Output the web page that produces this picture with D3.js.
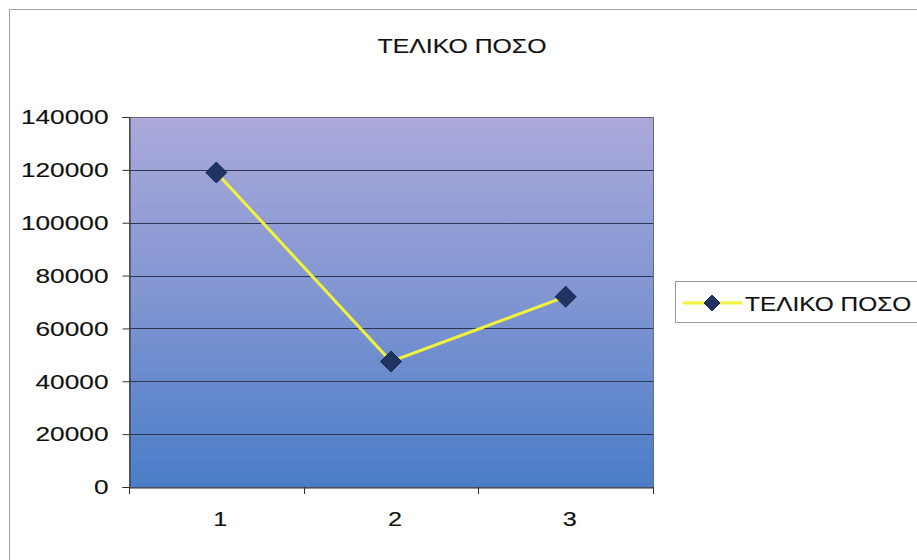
<!DOCTYPE html>
<html>
<head>
<meta charset="utf-8">
<script src="https://cdn.jsdelivr.net/npm/d3@7"></script>
<style>
  html, body { margin: 0; padding: 0; background: #ffffff; }
  svg { display: block; font-family: "Liberation Sans", Arial, sans-serif; }
</style>
</head>
<body>
<svg id="chart" width="917" height="560"></svg>
<script>
const titleText = "ΤΕΛΙΚΟ ΠΟΣΟ";
const seriesName = "ΤΕΛΙΚΟ ΠΟΣΟ";
const categories = ["1", "2", "3"];
const values = [119000, 47500, 72000];
const yTicks = [0, 20000, 40000, 60000, 80000, 100000, 120000, 140000];

const svg = d3.select("#chart");
const plot = { left: 129, right: 653, top: 117, bottom: 487 };
function stretch(factor) {
  return sel => sel.each(function () {
    const w = this.getComputedTextLength();
    d3.select(this).attr("textLength", w * factor).attr("lengthAdjust", "spacingAndGlyphs");
  });
}
function ink(sel) {
  sel.attr("fill", "#111").attr("stroke", "#111").attr("stroke-width", 0.15);
}

// outer chart border
svg.append("rect")
  .attr("x", 9.5).attr("y", 9.5)
  .attr("width", 960).attr("height", 600)
  .attr("fill", "#ffffff")
  .attr("stroke", "#a0a0a0").attr("stroke-width", 1);

const defs = svg.append("defs");
const grad = defs.append("linearGradient")
  .attr("id", "bg").attr("x1", 0).attr("y1", 0).attr("x2", 0).attr("y2", 1);
grad.append("stop").attr("offset", "0%").attr("stop-color", "#aba9da");
grad.append("stop").attr("offset", "50%").attr("stop-color", "#7f95d2");
grad.append("stop").attr("offset", "100%").attr("stop-color", "#4a7dc8");

const x = d3.scaleBand().domain(categories).range([plot.left, plot.right]).padding(0);
const y = d3.scaleLinear().domain([0, 140000]).range([plot.bottom, plot.top]);

svg.append("rect")
  .attr("x", plot.left).attr("y", plot.top)
  .attr("width", plot.right - plot.left).attr("height", plot.bottom - plot.top)
  .attr("fill", "url(#bg)");

// gridlines
svg.append("g").selectAll("line")
  .data(yTicks.filter(d => d > 0))
  .join("line")
  .attr("x1", plot.left).attr("x2", plot.right)
  .attr("y1", d => Math.round(y(d)) + 0.5).attr("y2", d => Math.round(y(d)) + 0.5)
  .attr("stroke", "#2e3550").attr("stroke-width", 1);

// plot border (gray)
svg.append("rect")
  .attr("x", plot.left + 0.5).attr("y", plot.top + 0.5)
  .attr("width", plot.right - plot.left).attr("height", plot.bottom - plot.top)
  .attr("fill", "none").attr("stroke", "#6a6a7a").attr("stroke-width", 1);

// y axis
const yAxis = d3.axisLeft(y).tickValues(yTicks).tickSize(7).tickPadding(14).tickFormat(d3.format("d"));
const yg = svg.append("g").attr("transform", `translate(${plot.left + 0.5},0)`).call(yAxis);
yg.select(".domain").attr("stroke", "#303030");
yg.selectAll(".tick line").attr("stroke", "#303030");
yg.selectAll("text").attr("font-size", 21)
  .attr("font-family", "Liberation Sans, Arial, sans-serif").call(ink).call(stretch(1.25));

// x axis
const xAxis = d3.axisBottom(x).tickSize(0).tickPadding(24);
const xg = svg.append("g").attr("transform", `translate(0,${plot.bottom + 0.5})`).call(xAxis);
xg.select(".domain").attr("stroke", "#303030");
xg.selectAll("text").attr("font-size", 21)
  .attr("font-family", "Liberation Sans, Arial, sans-serif").attr("dx", 4).call(ink).call(stretch(1.2));
// category boundary ticks
const bounds = categories.map(c => x(c)).concat([x(categories[categories.length - 1]) + x.bandwidth()]);
svg.append("g").selectAll("line").data(bounds).join("line")
  .attr("x1", d => Math.round(d) + 0.5).attr("x2", d => Math.round(d) + 0.5)
  .attr("y1", plot.bottom).attr("y2", plot.bottom + 7)
  .attr("stroke", "#303030");

// line
const cx = d => x(d) + x.bandwidth() / 2;
const line = d3.line().x((d, i) => cx(categories[i])).y(d => y(d));
svg.append("path").datum(values)
  .attr("d", line)
  .attr("fill", "none").attr("stroke", "#f2f23a").attr("stroke-width", 3);

function diamondPath(r) {
  return `M0,${-r}L${r},0L0,${r}L${-r},0Z`;
}
svg.append("g").selectAll("path.pt").data(values).join("path")
  .attr("class", "pt")
  .attr("transform", (d, i) => `translate(${cx(categories[i])},${y(d)})`)
  .attr("d", diamondPath(10.5))
  .attr("fill", "#1f3463").attr("stroke", "#1a2a50").attr("stroke-width", 1);

// title
svg.append("text")
  .attr("x", 462).attr("y", 53)
  .attr("text-anchor", "middle")
  .attr("font-size", 20)
  .text(titleText).call(ink).call(stretch(1.24));

// legend
const lg = svg.append("g");
lg.append("rect").attr("x", 675.5).attr("y", 281.5).attr("width", 260).attr("height", 41)
  .attr("fill", "#ffffff").attr("stroke", "#9a9a9a");
lg.append("line").attr("x1", 683).attr("x2", 742).attr("y1", 303).attr("y2", 303)
  .attr("stroke", "#f2f23a").attr("stroke-width", 3);
lg.append("path").attr("transform", "translate(712,303)").attr("d", diamondPath(8))
  .attr("fill", "#1f3463").attr("stroke", "#1a2a50");
lg.append("text").attr("x", 745).attr("y", 311)
  .attr("font-size", 20).text(seriesName).call(ink).call(stretch(1.22));
</script>
</body>
</html>
